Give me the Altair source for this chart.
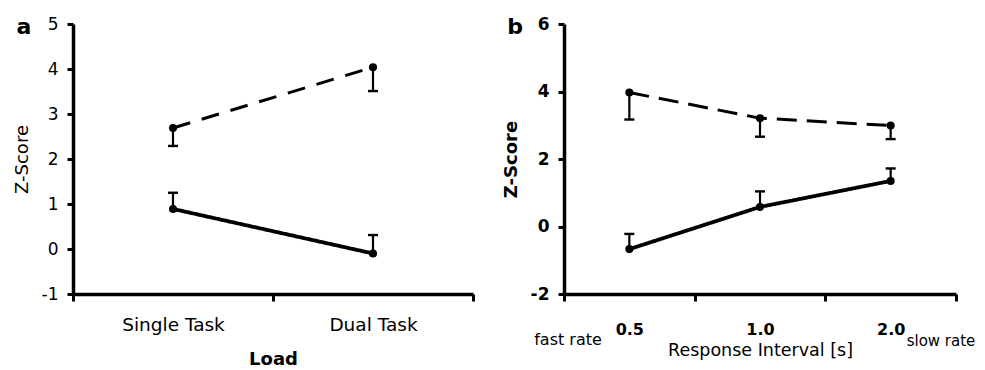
import altair as alt
import pandas as pd

# ---------------- data ----------------
load_labels = ["Single Task", "Dual Task"]
a_dashed_mean = [2.69, 4.04]
a_dashed_err = [2.29, 3.51]      # lower error end
a_solid_mean = [0.89, -0.10]
a_solid_err = [1.25, 0.31]       # upper error end

interval_labels = ["0.5", "1.0", "2.0"]
b_dashed_mean = [3.97, 3.21, 2.99]
b_dashed_err = [3.17, 2.66, 2.59]
b_solid_mean = [-0.67, 0.58, 1.35]
b_solid_err = [-0.22, 1.04, 1.72]

a_ticks = [-1, 0, 1, 2, 3, 4, 5]
b_ticks = [-2, 0, 2, 4, 6]

FONT = "DejaVu Sans"


def frame(cats, dmean, derr, smean, serr):
    rows = []
    for c, m, e in zip(cats, dmean, derr):
        rows.append({"cat": c, "series": "dashed", "mean": m, "err": e})
    for c, m, e in zip(cats, smean, serr):
        rows.append({"cat": c, "series": "solid", "mean": m, "err": e})
    return pd.DataFrame(rows)


def panel(df, cats, ticks, width, height, letter, xtitle, bold, dash,
          label_pad, title_pad, xlabel_size, xtitle_size, extra=None):
    weight = "bold" if bold else "normal"
    xaxis = alt.Axis(
        title=xtitle, labelAngle=0, tickBand="extent", tickSize=7,
        labelFontSize=xlabel_size, labelFontWeight=weight,
        labelPadding=label_pad,
        titleFontSize=xtitle_size,
        titleFontWeight="bold" if not bold else "normal", titlePadding=title_pad,
    )
    yaxis = alt.Axis(
        title="Z-Score", values=ticks, tickSize=6,
        labelExpr="datum.value + ''",
        labelFontSize=17, labelFontWeight=weight, labelPadding=9,
        titleFontSize=18, titleFontWeight=weight, titlePadding=10,
    )
    xscale = alt.Scale(type="band", domain=cats, paddingInner=0, paddingOuter=0)
    yscale = alt.Scale(domain=[ticks[0], ticks[-1]], nice=False, zero=False)

    def X():
        return alt.X("cat:N", sort=cats, scale=xscale, axis=xaxis)

    def Y(field):
        return alt.Y(field, scale=yscale, axis=yaxis)

    line = alt.Chart(df).mark_line(color="black").encode(
        x=X(),
        y=Y("mean:Q"),
        detail="series:N",
        strokeDash=alt.StrokeDash(
            "series:N",
            scale=alt.Scale(domain=["dashed", "solid"], range=[dash, [1, 0]]),
            legend=None,
        ),
        strokeWidth=alt.StrokeWidth(
            "series:N",
            scale=alt.Scale(domain=["dashed", "solid"], range=[3, 3.8]),
            legend=None,
        ),
    )
    rule = alt.Chart(df).mark_rule(color="black", strokeWidth=2.2).encode(
        x=X(), y=Y("mean:Q"), y2="err:Q")
    cap = alt.Chart(df).mark_tick(color="black", size=10, thickness=2.4, opacity=1).encode(
        x=X(), y=Y("err:Q"))
    pts = alt.Chart(df).mark_circle(color="black", size=65, opacity=1).encode(
        x=X(), y=Y("mean:Q"))
    lab = alt.Chart(pd.DataFrame({"t": [letter]})).mark_text(
        font=FONT, fontSize=22, fontWeight="bold", color="black", align="center",
        baseline="middle",
    ).encode(text="t:N", x=alt.value(-49), y=alt.value(3))
    layers = [line, rule, cap, pts, lab]
    if extra is not None:
        layers += extra
    return alt.layer(*layers).properties(width=width, height=height)


df_a = frame(load_labels, a_dashed_mean, a_dashed_err, a_solid_mean, a_solid_err)
df_b = frame(interval_labels, b_dashed_mean, b_dashed_err, b_solid_mean, b_solid_err)

fast = alt.Chart(pd.DataFrame({"t": ["fast rate"]})).mark_text(
    font=FONT, fontSize=16, color="black", align="center", baseline="middle"
).encode(text="t:N", x=alt.value(4), y=alt.value(316))
slow = alt.Chart(pd.DataFrame({"t": ["slow rate"]})).mark_text(
    font=FONT, fontSize=15, color="black", align="center", baseline="middle"
).encode(text="t:N", x=alt.value(377), y=alt.value(317))

pa = panel(df_a, load_labels, a_ticks, 400, 270, "a", "Load", False, [18, 12],
           14, 17, 18.5, 18)
pb = panel(df_b, interval_labels, b_ticks, 392, 270, "b", "Response Interval [s]", True,
           [20, 10], 20, 4, 16, 17.5, extra=[fast, slow])

chart = alt.hconcat(pa, pb, spacing=27).resolve_scale(
    x="independent", y="independent", strokeDash="independent",
    strokeWidth="independent",
).properties(
    padding={"left": 5, "top": 7, "right": 0, "bottom": 0},
    background="white",
).configure_view(stroke=None).configure_axis(
    grid=False,
    domainColor="black", domainWidth=3.5,
    tickColor="black", tickWidth=3,
    labelColor="black", labelFont=FONT,
    titleColor="black", titleFont=FONT,
)

chart.save("out.html", embed_options={"renderer": "svg", "actions": False})
